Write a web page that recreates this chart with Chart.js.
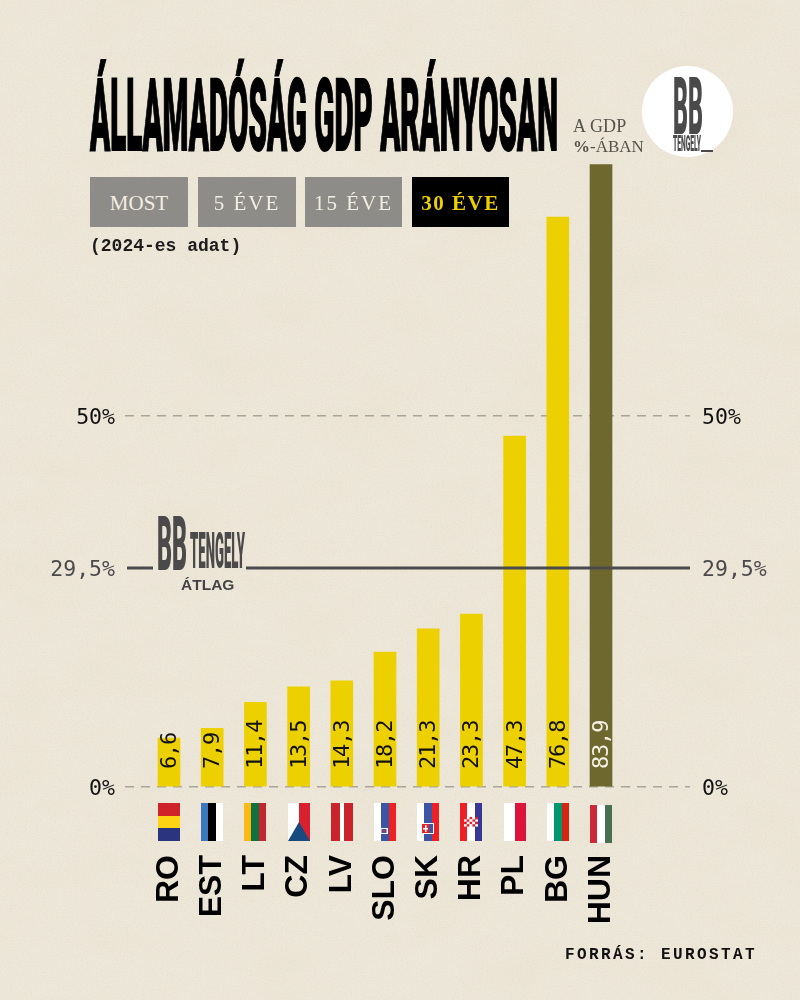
<!DOCTYPE html>
<html lang="hu">
<head>
<meta charset="utf-8">
<title>Államadóság GDP arányosan</title>
<script src="https://cdn.jsdelivr.net/npm/chart.js@4"></script>
<style>
    html, body { margin: 0; padding: 0; }
    body {
        position: relative;
        width: 800px;
        height: 1000px;
        overflow: hidden;
        background-color: #eee8da;
    }
    #paper { position: absolute; left: 0; top: 0; width: 800px; height: 1000px; }
    #chart { position: absolute; left: 0; top: 0; }
    .txt { position: absolute; white-space: nowrap; line-height: 1; }
    .squash { font-family: Roboto, "Liberation Sans", sans-serif; font-weight: 900; transform-origin: 0 0; }
    .mono { font-family: "Liberation Mono", monospace; }
    .slab { font-family: "Liberation Serif", serif; }
    .btn {
        position: absolute;
        top: 177px;
        height: 50px;
        line-height: 52px;
        text-align: center;
        font-family: "Liberation Serif", serif;
        font-size: 21px;
        letter-spacing: 2px;
        background: #8e8c88;
        color: #f3eee2;
    }
    .btn.active { background: #000; color: #ecd000; font-weight: bold; letter-spacing: 1.5px; }
    #circle { position: absolute; left: 642px; top: 66px; width: 91px; height: 91px; border-radius: 50%; background: #fff; }
    #underscore { position: absolute; left: 701px; top: 150px; width: 12px; height: 1.5px; background: #4a4a4a; }
</style>
</head>
<body>
<svg id="paper" xmlns="http://www.w3.org/2000/svg">
    <filter id="grain">
        <feTurbulence type="fractalNoise" baseFrequency="0.8" numOctaves="3" seed="7"/>
        <feColorMatrix type="matrix" values="0 0 0 0 0.55  0 0 0 0 0.47  0 0 0 0 0.35  0 0 0 1.2 -0.5"/>
    </filter>
    <filter id="mottle">
        <feTurbulence type="fractalNoise" baseFrequency="0.012 0.02" numOctaves="4" seed="11"/>
        <feColorMatrix type="matrix" values="0 0 0 0 0.72  0 0 0 0 0.64  0 0 0 0 0.5  0 0 0 1.2 -0.5"/>
    </filter>
    <rect width="800" height="1000" filter="url(#mottle)" opacity="0.22"/>
    <rect width="800" height="1000" filter="url(#grain)" opacity="0.28"/>
</svg>

<canvas id="chart" width="800" height="1000"></canvas>

<div class="txt squash" data-w="468" style="left:90px;top:65.9px;font-size:100px;color:#000;-webkit-text-stroke:2px #000;">ÁLLAMADÓSÁG GDP ARÁNYOSAN</div>
<div class="txt slab" style="left:573px;top:117px;font-size:18px;letter-spacing:0.2px;color:#55524c;">A GDP</div>
<div class="txt slab" style="left:573px;top:138px;font-size:17px;color:#55524c;"><b>%</b>-ÁBAN</div>

<div id="circle"></div>
<div class="txt squash" data-w="30" style="left:673px;top:66.7px;font-size:80px;color:#4a4a4a;">BB</div>
<div class="txt squash" data-w="28" style="left:673px;top:132px;font-size:22.5px;color:#4a4a4a;">TENGELY</div>
<div id="underscore"></div>

<div class="btn" style="left:90px;width:98px;letter-spacing:0;">MOST</div>
<div class="btn" style="left:198px;width:98px;">5 ÉVE</div>
<div class="btn" style="left:305px;width:97px;">15 ÉVE</div>
<div class="btn active" style="left:412px;width:97px;">30 ÉVE</div>
<div class="txt mono" style="left:90px;top:237px;font-size:18px;font-weight:bold;color:#1c1c1c;">(2024-es adat)</div>

<div class="txt squash" data-w="30" style="left:157px;top:506px;font-size:76px;color:#4a4a4a;">BB</div>
<div class="txt squash" data-w="55" style="left:190px;top:526px;font-size:50.6px;color:#4a4a4a;">TENGELY</div>
<div class="txt" style="left:181px;top:576.5px;font-family:'Liberation Sans',sans-serif;font-weight:bold;font-size:15.5px;color:#444;">ÁTLAG</div>

<div class="txt mono" style="left:565px;top:947px;font-size:16px;font-weight:bold;letter-spacing:2.4px;color:#111;">FORRÁS: EUROSTAT</div>

<script>
const categories = ["RO", "EST", "LT", "CZ", "LV", "SLO", "SK", "HR", "PL", "BG", "HUN"];
const debtValues = [6.6, 7.9, 11.4, 13.5, 14.3, 18.2, 21.3, 23.3, 47.3, 76.8, 83.9];
const valueLabels = ["6,6", "7,9", "11,4", "13,5", "14,3", "18,2", "21,3", "23,3", "47,3", "76,8", "83,9"];
const yTicks = [0, 29.5, 50];
const yTickLabels = ["0%", "29,5%", "50%"];
const averageValue = 29.5;

const YELLOW = "#ecd000";
const OLIVE = "#6e682e";
const DARK = "#4a4a4c";

// flags are stripes, left to right unless the flag is "rows"
const flags = {
    RO: { rows: true, c: ["#d02229", "#fdd314", "#2b347f"] },
    EST: { c: ["#3a78bf", "#000000", "#ffffff"] },
    LT: { c: ["#fdb913", "#0f7040", "#c1272d"] },
    CZ: { c: ["#ffffff", "#d9202f"], triangle: "#174a7e" },
    LV: { c: ["#c9242b", "#c9242b", "#ffffff", "#c9242b", "#c9242b"] },
    SLO: { c: ["#ffffff", "#3c55a5", "#ed2024"], crest: "slo" },
    SK: { c: ["#ffffff", "#3c55a5", "#ed2024"], crest: "sk" },
    HR: { c: ["#ee2024", "#ffffff", "#373795"], crest: "hr" },
    PL: { c: ["#ffffff", "#dc143c"] },
    BG: { c: ["#ffffff", "#00966e", "#d62612"] },
    HUN: { c: ["#ce2939", "#ffffff", "#477050"], shift: 2 },
};

function drawCrest(ctx, kind, cx, top) {
    if (kind === "slo") {
        ctx.fillStyle = "#ffffff";
        ctx.fillRect(cx - 5, top + 25, 8, 6);
        ctx.fillStyle = "#3c55a5";
        ctx.fillRect(cx - 3.5, top + 26, 5, 4);
        ctx.fillStyle = "#ed2024";
        ctx.fillRect(cx - 2, top + 27, 2, 2);
    } else if (kind === "sk") {
        ctx.fillStyle = "#ffffff";
        ctx.fillRect(cx - 7, top + 20, 13, 11);
        ctx.fillStyle = "#ed2024";
        ctx.fillRect(cx - 6, top + 21, 7, 9);
        ctx.fillStyle = "#3c55a5";
        ctx.fillRect(cx + 1, top + 21, 4, 9);
        ctx.fillStyle = "#ffffff";
        ctx.fillRect(cx - 3, top + 22, 1.5, 7);
        ctx.fillRect(cx - 5, top + 25, 5, 1.5);
    } else if (kind === "hr") {
        for (let r = 0; r < 4; r++) {
            for (let q = 0; q < 5; q++) {
                ctx.fillStyle = (r + q) % 2 ? "#ffffff" : "#e0202a";
                ctx.fillRect(cx - 7 + q * 2.8, top + 14 + r * 2.4, 2.8, 2.4);
            }
        }
    }
}

const flagPlugin = {
    id: "flags",
    afterDraw(chart) {
        const ctx = chart.ctx;
        const x = chart.scales.x;
        const w = 22, h = 38, top = 803;
        categories.forEach((name, i) => {
            const f = flags[name];
            const cx = x.getPixelForValue(i);
            const left = Math.round(cx - w / 2);
            const y0 = top + (f.shift || 0);
            const n = f.c.length;
            ctx.save();
            f.c.forEach((col, k) => {
                ctx.fillStyle = col;
                if (f.rows) {
                    ctx.fillRect(left, y0 + Math.round(k * h / n), w, Math.round((k + 1) * h / n) - Math.round(k * h / n));
                } else {
                    ctx.fillRect(left + Math.round(k * w / n), y0, Math.round((k + 1) * w / n) - Math.round(k * w / n), h);
                }
            });
            if (f.triangle) {
                ctx.fillStyle = f.triangle;
                ctx.beginPath();
                ctx.moveTo(left, y0 + h);
                ctx.lineTo(left + w / 2, y0 + 19);
                ctx.lineTo(left + w, y0 + h);
                ctx.closePath();
                ctx.fill();
            }
            if (f.crest) drawCrest(ctx, f.crest, left + w / 2, y0);
            ctx.restore();
        });
    },
};

// the values inside the bars, turned 90 degrees, all starting at the same height
const valueLabelPlugin = {
    id: "valueLabels",
    afterDatasetsDraw(chart) {
        const ctx = chart.ctx;
        const x = chart.scales.x;
        const base = chart.scales.y.getPixelForValue(0) - 18;
        ctx.save();
        ctx.font = '22px "DejaVu Sans Mono", monospace';
        ctx.letterSpacing = "-1.2px";
        ctx.textAlign = "left";
        ctx.textBaseline = "alphabetic";
        valueLabels.forEach((label, i) => {
            ctx.save();
            ctx.translate(x.getPixelForValue(i), base);
            ctx.rotate(-Math.PI / 2);
            ctx.fillStyle = i === valueLabels.length - 1 ? "#f5f1e6" : "#111111";
            ctx.fillText(label, 0, 7);
            ctx.restore();
        });
        ctx.restore();
    },
};

// average line goes over the bars and leaves a gap for the logo
const averagePlugin = {
    id: "averageLine",
    afterDatasetsDraw(chart) {
        const ctx = chart.ctx;
        const area = chart.chartArea;
        const y = chart.scales.y.getPixelForValue(averageValue);
        ctx.save();
        ctx.strokeStyle = DARK;
        ctx.lineWidth = 3;
        ctx.beginPath();
        ctx.moveTo(area.left + 2, y);
        ctx.lineTo(153, y);
        ctx.moveTo(246, y);
        ctx.lineTo(area.right, y);
        ctx.stroke();
        ctx.restore();
    },
};

function tickColor(ctx) {
    return ctx.tick && ctx.tick.value === averageValue ? DARK : "#111111";
}

function useFixedTicks(scale) {
    scale.ticks = yTicks.map((v) => ({ value: v }));
}

function tickText(value) {
    return yTickLabels[yTicks.indexOf(value)];
}

new Chart(document.getElementById("chart"), {
    type: "bar",
    data: {
        datasets: [
            {
                data: debtValues.map((v, i) => ({ x: i, y: v })),
                backgroundColor: debtValues.map((v, i) => (i === debtValues.length - 1 ? OLIVE : YELLOW)),
                barThickness: 22,
                yAxisID: "y",
            },
        ],
    },
    options: {
        responsive: false,
        animation: false,
        layout: { padding: { top: 45, left: 0, right: 0, bottom: 0 } },
        plugins: { legend: { display: false }, tooltip: { enabled: false }, title: { display: false } },
        scales: {
            x: {
                type: "linear",
                offset: false,
                min: -1.0185,
                max: 12.06,
                grid: { display: false, drawTicks: false },
                border: { display: false },
                afterBuildTicks(scale) {
                    scale.ticks = categories.map((c, i) => ({ value: i }));
                },
                afterFit(scale) {
                    scale.height = 213;
                },
                ticks: {
                    autoSkip: false,
                    minRotation: 90,
                    maxRotation: 90,
                    padding: 68,
                    color: "#000000",
                    font: { family: '"Liberation Sans", sans-serif', weight: "bold", size: 32 },
                    callback: (value) => categories[value],
                },
            },
            y: {
                position: "left",
                min: 0,
                max: 100,
                border: { display: false, dash: [9, 7] },
                grid: {
                    drawTicks: false,
                    lineWidth: 1.5,
                    color: (ctx) => (ctx.tick && ctx.tick.value === averageValue ? "rgba(0,0,0,0)" : "#a9a59b"),
                },
                afterBuildTicks: useFixedTicks,
                afterFit(scale) {
                    scale.width = 125;
                },
                ticks: {
                    padding: 10,
                    labelOffset: 2,
                    color: tickColor,
                    font: { family: '"DejaVu Sans Mono", monospace', size: 21.5 },
                    callback: tickText,
                },
            },
            yRight: {
                position: "right",
                min: 0,
                max: 100,
                border: { display: false },
                grid: { display: false, drawTicks: false },
                afterBuildTicks: useFixedTicks,
                afterFit(scale) {
                    scale.width = 110;
                },
                ticks: {
                    padding: 12,
                    labelOffset: 2,
                    color: tickColor,
                    font: { family: '"DejaVu Sans Mono", monospace', size: 21.5 },
                    callback: tickText,
                },
            },
        },
    },
    plugins: [flagPlugin, valueLabelPlugin, averagePlugin],
});

// squeeze the heavy display text to its width, there is no condensed font installed
document.querySelectorAll(".squash").forEach((el) => {
    const target = parseFloat(el.dataset.w || 0);
    if (target) el.style.transform = "scaleX(" + target / el.getBoundingClientRect().width + ")";
});
</script>
</body>
</html>
